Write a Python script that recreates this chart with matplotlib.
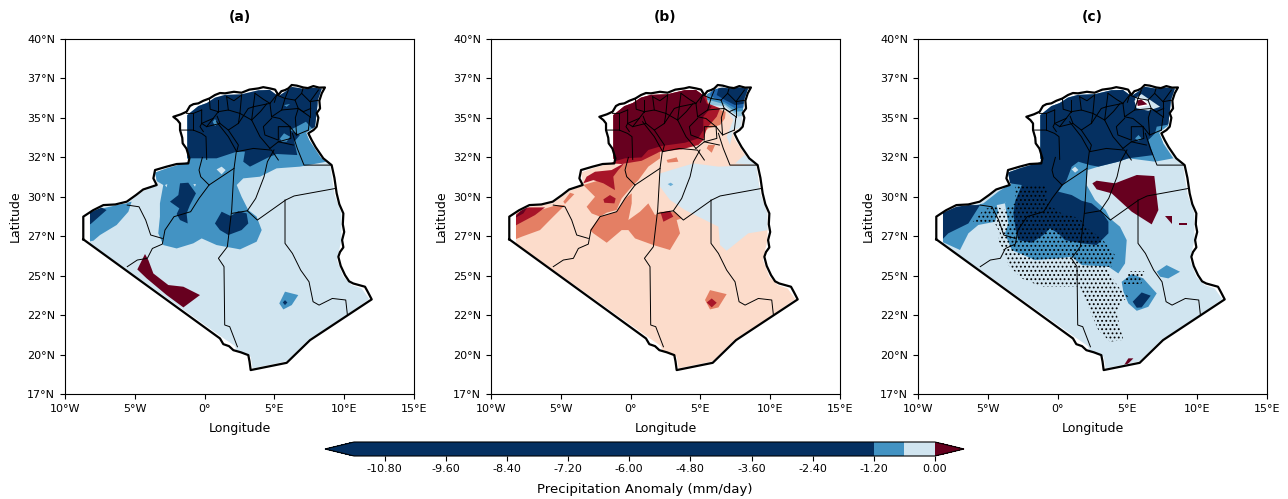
import numpy as np
import matplotlib
matplotlib.use("Agg")
import matplotlib.pyplot as plt
from matplotlib.colors import ListedColormap, BoundaryNorm
from matplotlib.cm import ScalarMappable

W, H = 1288, 499

dark = "#053061"
mid = "#4393c3"
light = "#d1e5f0"
pale_blue = "#d6e7f1"
sky = "#92c5de"
blue = "#2166ac"
maroon = "#67001f"
red = "#a81529"
salmon = "#e47f64"
peach = "#fcdccb"

lon_ticks = [-10, -5, 0, 5, 10, 15]
lon_labels = ["10°W", "5°W", "0°", "5°E", "10°E", "15°E"]
lat_ticks = np.linspace(40, 17, 10)
lat_labels = ["40°N", "37°N", "35°N", "32°N", "30°N", "27°N", "25°N", "22°N", "20°N", "17°N"]
cbar_levels = [-11.4, -1.2, -0.6, 0.0]
cbar_ticks = [-10.8, -9.6, -8.4, -7.2, -6.0, -4.8, -3.6, -2.4, -1.2, 0.0]

# country border, lon/lat
border = [(-8.69, 27.02), (1.10, 20.60), (1.34, 20.23), (1.75, 20.1), (2.06, 19.84), (2.6, 19.7), (3.13, 19.52), (3.22, 19.1),
          (3.3, 18.55), (5.88, 19.02), (7.55, 20.49), (11.97, 23.13), (11.7, 23.6), (11.49, 23.95), (10.65, 24.16),
          (10.35, 24.3), (10.06, 24.70), (9.75, 25.3), (9.58, 25.89), (9.7, 26.2), (9.94, 26.5), (9.85, 26.97), (10.0, 27.5),
          (9.9, 28.0), (9.94, 28.70), (9.65, 29.3), (9.46, 30.0), (9.3, 31.0), (9.1, 31.83), (8.5, 32.27), (7.95, 33.0),
          (7.67, 33.45), (7.43, 33.89), (7.8, 34.1), (8.03, 34.32), (8.15, 34.9), (8.03, 35.2), (8.27, 35.5), (8.22, 36.0),
          (8.39, 36.48), (8.62, 36.86), (8.2, 36.85), (7.79, 36.95), (7.4, 36.82), (7.07, 36.86), (6.6, 36.98), (6.24, 37.02),
          (6.0, 36.8), (5.76, 36.69), (5.5, 36.62), (5.28, 36.37), (5.05, 36.72), (4.68, 36.80), (4.2, 36.88), (3.85, 36.80),
          (3.2, 36.72), (2.65, 36.52), (2.1, 36.58), (1.46, 36.48), (1.1, 36.5), (0.74, 36.37), (0.35, 36.15), (-0.09, 36.0),
          (-0.45, 35.83), (-0.8, 35.78), (-1.05, 35.66), (-1.29, 35.29), (-1.7, 35.12), (-2.24, 34.96), (-1.95, 34.75),
          (-1.76, 34.53), (-1.76, 34.1), (-1.6, 33.6), (-1.57, 33.24), (-1.3, 32.9), (-1.09, 32.27), (-1.17, 31.94), (-2.0, 31.9),
          (-2.72, 31.73), (-3.55, 31.51), (-3.67, 30.97), (-3.43, 30.54), (-4.4, 30.25), (-4.9, 29.9), (-5.58, 29.46),
          (-6.4, 29.28), (-7.25, 29.24), (-8.0, 28.9), (-8.69, 28.49), (-8.69, 27.02)]

# the part of the map that has data, a little inside the border
data_area = [(-8.21, 28.75), (-8.21, 26.75), (1.25, 20.68), (2.18, 20.10), (2.30, 19.74), (3.30, 19.41),
             (3.44, 18.66), (5.16, 18.98), (5.88, 19.12), (7.43, 20.50), (10.18, 22.12), (11.80, 23.15),
             (11.25, 23.84), (10.54, 24.06), (9.94, 24.60), (9.48, 25.68), (9.80, 26.97), (9.80, 28.70),
             (9.32, 29.89), (8.98, 31.83), (8.32, 32.33), (7.50, 33.45), (7.28, 33.92), (7.91, 34.32),
             (8.05, 35.40), (8.12, 36.05), (8.40, 36.78), (7.79, 36.85), (7.07, 36.78), (6.24, 36.90),
             (5.76, 36.58), (5.28, 36.30), (4.68, 36.70), (3.85, 36.68), (2.65, 36.42), (1.46, 36.38),
             (0.74, 36.20), (0.15, 35.85), (-0.45, 35.65), (-1.24, 35.07),
             (-1.24, 32.27), (-1.09, 32.05), (-2.72, 31.62), (-3.55, 31.35), (-3.38, 30.54), (-4.39, 30.15),
             (-5.58, 29.35), (-7.25, 29.13)]

provinces = [
    [(-5.54, 25.25), (-4.82, 25.68), (-4.10, 25.79), (-3.74, 26.43), (-3.03, 26.71), (-2.84, 27.62), (-2.19, 28.49),
     (-1.0, 28.81), (-0.40, 29.67), (0.32, 30.54), (2.11, 31.62), (2.27, 32.70)],
    [(-3.03, 27.08), (-3.86, 27.30), (-4.22, 28.27), (-4.70, 29.13), (-5.54, 29.24)],
    [(2.11, 31.62), (1.94, 28.92), (1.63, 26.54), (0.99, 25.79), (1.39, 25.25), (1.44, 21.47), (1.80, 21.36), (2.35, 20.06)],
    [(-0.16, 32.33), (-0.40, 31.51), (-0.28, 31.08), (0.32, 30.54)],
    [(4.97, 32.81), (4.50, 32.05), (4.26, 31.08), (3.66, 29.67), (3.06, 28.87), (3.78, 28.27), (5.81, 29.57),
     (6.41, 29.83), (9.39, 30.32)],
    [(1.94, 28.70), (3.06, 28.87)],
    [(5.76, 29.57), (5.76, 26.76), (6.29, 26.11), (6.88, 25.03), (7.48, 24.27), (7.77, 22.98), (8.20, 22.76),
     (9.15, 23.19), (10.11, 23.09), (10.23, 22.12)],
    [(6.29, 33.89), (6.64, 32.91), (7.12, 31.83), (9.03, 31.83)],
    [(-1.76, 34.10), (-1.29, 34.10), (-0.81, 34.10), (-0.21, 33.88), (0.10, 33.67), (0.15, 32.20)],
    [(-0.81, 35.18), (-0.81, 34.10)],
    [(-0.21, 35.40), (-0.21, 34.53), (-0.33, 34.32), (-0.09, 34.0)],
    [(-0.21, 34.53), (0.62, 34.86), (0.98, 35.29), (1.70, 35.40), (2.53, 35.18), (2.42, 34.53)],
    [(0.15, 34.32), (1.10, 34.53), (1.70, 34.10), (2.42, 34.53)],
    [(1.70, 34.10), (2.42, 33.13), (2.30, 32.70), (3.49, 32.91), (4.80, 32.80), (5.28, 32.16)],
    [(0.86, 34.64), (1.70, 33.67), (2.30, 32.70)],
    [(2.42, 34.53), (3.13, 35.50), (3.49, 35.61), (3.37, 34.75), (3.97, 33.67), (4.68, 32.91)],
    [(0.98, 36.04), (0.98, 35.29)],
    [(1.70, 35.40), (1.58, 36.26)],
    [(2.53, 35.18), (2.65, 36.37)],
    [(3.49, 35.61), (3.61, 36.48)],
    [(3.49, 35.61), (4.68, 35.83), (5.16, 36.37)],
    [(4.68, 35.83), (4.80, 34.96), (5.52, 35.40), (6.71, 35.50), (7.07, 35.29)],
    [(4.80, 34.86), (4.21, 34.32), (4.32, 33.78), (5.28, 33.45), (5.28, 34.32), (6.12, 34.32), (6.18, 33.56), (5.28, 33.34)],
    [(6.12, 34.32), (6.59, 33.78), (7.43, 34.10)],
    [(7.43, 34.10), (7.55, 34.96), (6.71, 35.50)],
    [(6.71, 35.50), (6.48, 36.04), (5.76, 36.15), (5.52, 35.40)],
    [(6.48, 36.04), (6.95, 36.48), (7.55, 35.94), (8.22, 36.04)],
    [(7.55, 35.94), (7.55, 34.96)],
    [(5.76, 36.15), (6.0, 36.69)],
    [(6.95, 36.48), (7.07, 36.86)],
    [(7.55, 35.94), (8.15, 36.69)],
    [(5.16, 36.37), (5.76, 36.15)],
    [(-1.29, 35.18), (-0.81, 35.18), (-0.21, 35.40)],
    [(0.62, 34.86), (0.15, 34.32), (-0.21, 34.53)],
    [(4.68, 32.91), (5.28, 33.34), (6.36, 33.13)],
    [(4.45, 35.8), (4.0, 35.3), (3.37, 34.75)],
    [(5.16, 36.37), (5.0, 35.9)],
    [(4.8, 34.96), (5.4, 34.85), (6.12, 34.32)],
    [(6.71, 35.5), (6.5, 34.9), (6.59, 33.78)],
    [(1.1, 34.53), (0.9, 35.0)],
    [(2.53, 35.18), (3.37, 34.75)],
    [(0.98, 35.29), (0.4, 35.45), (0.35, 36.1)],
    [(1.58, 36.26), (2.1, 36.0), (2.65, 36.37)],
    [(3.61, 36.48), (4.2, 36.1), (4.68, 35.83)],
    [(7.07, 35.29), (7.6, 35.5)],
]

# panel (a) anomaly areas
a_regions = [
    (mid, [(-3.91, 32.16), (-3.55, 30.86), (-2.96, 30.54), (-3.20, 29.35), (-3.20, 28.49), (-3.32, 27.41), (-2.96, 26.65),
           (-2.00, 26.43), (-0.81, 26.76), (-0.21, 27.08), (0.86, 26.65), (2.54, 26.37), (3.73, 26.87), (4.09, 27.62),
           (3.73, 28.49), (3.13, 28.92), (2.65, 29.78), (2.30, 30.54), (2.77, 30.97), (3.97, 31.08), (5.16, 31.62),
           (6.83, 31.73), (8.74, 32.05), (9.46, 32.16), (9.46, 35.83), (-3.91, 35.83)]),
    (mid, [(-8.33, 28.81), (-5.23, 29.46), (-5.46, 28.81), (-6.30, 27.95), (-7.49, 27.30), (-7.97, 26.93), (-8.33, 26.87)]),
    (dark, [(-1.29, 32.27), (0.86, 32.27), (2.30, 32.70), (2.89, 32.70), (2.77, 32.05), (3.25, 31.73), (4.57, 32.33),
            (5.16, 32.55), (6.64, 32.48), (6.43, 33.35), (6.83, 33.78), (6.12, 34.10), (6.83, 34.43), (7.26, 34.64),
            (7.79, 34.10), (8.74, 34.53), (8.74, 37.34), (-1.52, 37.34)]),
    (dark, [(-8.33, 28.66), (-8.33, 27.95), (-8.16, 28.01), (-7.02, 28.92), (-7.49, 29.13)]),
    (dark, [(-2.48, 29.46), (-1.88, 29.89), (-1.76, 30.65), (-1.17, 30.69), (-0.62, 30.0), (-1.05, 29.24), (-1.29, 28.70),
            (-1.21, 28.05), (-1.76, 28.27), (-2.0, 28.66), (-1.81, 29.03)]),
    (dark, [(0.74, 28.05), (1.22, 28.81), (1.87, 28.53), (2.42, 28.85), (3.01, 28.70), (3.13, 28.05), (2.65, 27.62),
            (1.70, 27.30), (1.10, 27.62)]),
    (mid, [(5.40, 33.56), (5.69, 33.89), (6.12, 33.67), (5.88, 33.35), (5.52, 33.35)]),
    (mid, [(0.58, 34.64), (0.74, 34.81), (0.98, 34.53), (0.74, 34.36)]),
    (mid, [(5.69, 35.72), (6.12, 35.79), (5.88, 35.61)]),
    (light, [(0.86, 31.55), (1.22, 31.73), (1.51, 31.51), (1.22, 31.23)]),
    (light, [(-2.84, 30.54), (-2.67, 30.60), (-2.72, 30.39)]),
    (light, [(-0.81, 30.60), (-0.62, 30.60), (-0.69, 30.43)]),
    (maroon, [(-4.27, 26.07), (-4.82, 25.07), (-4.15, 24.49), (-2.72, 23.41), (-1.52, 22.61), (-0.33, 23.41), (-1.52, 23.95),
              (-2.60, 24.06), (-3.67, 24.81), (-4.03, 25.68)]),
    (mid, [(5.35, 22.87), (5.76, 23.63), (6.71, 23.41), (6.24, 22.76), (5.64, 22.48)]),
    (dark, [(5.60, 22.93), (5.76, 23.08), (5.93, 22.93), (5.76, 22.76)]),
]

# panel (b) anomaly areas
b_regions = [
    (pale_blue, [(2.11, 31.29), (3.30, 31.62), (4.50, 31.94), (6.29, 31.73), (8.91, 31.83), (9.39, 31.51), (10.11, 29.35),
                 (9.87, 27.62), (8.43, 27.41), (6.88, 26.28), (6.41, 26.65), (6.29, 27.84), (4.85, 28.49), (3.90, 28.92),
                 (2.82, 29.57), (2.11, 30.43)]),
    ("#6aaed6", [(2.66, 30.60), (2.87, 30.69), (3.06, 30.58), (2.87, 30.47)]),
    (pale_blue, [(5.45, 36.69), (8.67, 37.34), (8.91, 34.32), (7.36, 34.15), (7.12, 33.13), (6.88, 33.67), (7.36, 34.75),
                 (6.76, 35.51), (5.57, 35.66)]),
    (pale_blue, [(7.48, 31.94), (8.43, 32.70), (9.15, 31.83)]),
    (sky, [(5.33, 36.48), (8.91, 37.34), (8.67, 35.18), (7.72, 34.97), (7.24, 35.29), (6.76, 35.66), (5.57, 35.72)]),
    (mid, [(5.45, 36.59), (8.91, 37.34), (8.55, 35.36), (7.48, 35.29), (6.76, 35.77), (5.81, 36.0), (5.45, 36.05)]),
    (blue, [(5.81, 36.69), (8.91, 37.34), (8.46, 35.57), (7.48, 35.51), (6.76, 35.89), (6.05, 36.15), (5.69, 36.37)]),
    (dark, [(6.29, 36.80), (8.91, 37.34), (8.32, 35.83), (7.48, 35.72), (6.76, 36.05), (6.17, 36.37)]),
    (salmon, [(-3.39, 30.54), (-2.19, 30.86), (-0.40, 31.94), (2.11, 32.70), (2.11, 32.27), (1.27, 31.73), (0.56, 30.86),
              (0.08, 30.43), (-0.64, 29.67), (-1.0, 28.92), (-1.71, 28.75), (-2.19, 28.49), (-2.79, 28.70), (-3.15, 29.13),
              (-2.55, 29.78)]),
    (salmon, [(-2.91, 27.62), (-2.19, 28.49), (-1.0, 28.81), (-0.40, 29.67), (0.08, 30.0), (0.08, 29.35), (-0.16, 28.27),
              (0.67, 28.81), (1.27, 29.35), (1.75, 28.59), (2.11, 28.81), (3.18, 28.81), (3.66, 28.38), (3.30, 28.27),
              (3.54, 27.41), (2.82, 26.33), (1.63, 26.65), (0.32, 27.08), (-0.16, 27.62), (-0.64, 27.62), (-1.71, 26.80),
              (-2.67, 27.41)]),
    (salmon, [(-8.40, 26.97), (-8.40, 27.95), (-6.85, 28.81), (-5.30, 29.24), (-4.70, 29.24), (-5.54, 28.49), (-6.49, 27.62),
              (-7.80, 27.19)]),
    (salmon, [(-4.82, 29.46), (-4.34, 30.04), (-4.03, 29.95), (-4.70, 29.31)]),
    (salmon, [(5.57, 33.13), (6.05, 33.13), (5.81, 32.63), (5.45, 32.91)]),
    (salmon, [(2.58, 32.16), (3.30, 32.33), (3.42, 32.05), (2.66, 31.99)]),
    (salmon, [(5.33, 23.09), (5.69, 23.73), (6.88, 23.47), (6.29, 22.61), (5.69, 22.48)]),
    (salmon, [(4.85, 33.56), (5.57, 34.21), (6.41, 34.43), (6.76, 34.86), (6.81, 35.29), (5.81, 35.57), (5.52, 35.94),
              (5.33, 36.69), (4.85, 36.69)]),
    (red, [(-3.15, 31.08), (-2.55, 31.40), (-1.36, 31.51), (-0.40, 31.99), (-0.88, 31.51), (-1.24, 31.08), (-1.12, 30.21),
           (-1.95, 30.65), (-2.67, 30.86), (-3.39, 30.65)]),
    (red, [(-0.64, 31.90), (0.79, 32.11), (2.11, 32.70), (3.66, 32.85), (4.85, 33.13), (5.21, 33.45), (5.45, 34.21),
           (6.17, 34.97), (6.41, 35.51), (5.52, 35.83), (5.33, 36.69), (4.85, 37.13), (-1.36, 37.13), (-1.36, 31.94)]),
    (red, [(-8.40, 27.84), (-8.40, 28.49), (-7.56, 29.09), (-6.13, 29.09), (-6.85, 28.59)]),
    (red, [(5.45, 22.93), (5.81, 23.19), (6.17, 22.91), (5.81, 22.61)]),
    (red, [(2.15, 28.75), (2.82, 28.87), (3.06, 28.49), (2.35, 28.16)]),
    (red, [(-1.95, 29.61), (-1.48, 29.89), (-1.07, 29.67), (-1.16, 29.35), (-1.88, 29.39)]),
    (maroon, [(-1.24, 32.05), (-0.40, 32.27), (0.79, 32.33), (1.27, 32.81), (2.23, 33.07), (3.90, 33.28), (4.85, 33.56),
              (5.21, 34.10), (5.21, 34.97), (5.81, 35.61), (5.45, 35.83), (5.09, 36.59), (4.61, 37.13), (-1.36, 37.13)]),
    (maroon, [(-8.33, 28.38), (-7.92, 28.81), (-7.33, 29.18), (-7.68, 28.70)]),
]

# panel (c) anomaly areas
c_regions = [
    (mid, [(-3.29, 30.65), (-3.77, 29.35), (-3.53, 28.05), (-3.77, 27.41), (-3.29, 26.33), (-1.62, 25.68), (0.05, 25.79),
           (1.01, 25.89), (1.73, 25.35), (3.64, 25.25), (4.35, 24.81), (4.83, 25.46), (4.95, 26.97), (4.47, 27.84),
           (3.75, 28.38), (3.44, 28.92), (2.68, 29.57), (2.08, 30.54), (2.15, 31.51), (2.92, 31.73), (4.35, 32.05),
           (5.07, 32.27), (6.98, 32.05), (8.29, 32.27), (7.57, 33.24), (7.34, 33.99), (7.81, 34.32), (8.65, 34.75),
           (8.65, 37.34), (-1.38, 37.34), (-4.01, 31.72)]),
    (mid, [(-8.30, 26.87), (-6.99, 26.33), (-6.39, 27.41), (-5.68, 27.95), (-4.48, 28.16), (-4.25, 28.81), (-4.36, 29.24),
           (-3.77, 29.35), (-3.05, 30.54), (-3.29, 30.65), (-4.25, 30.11), (-5.32, 29.35), (-8.18, 28.70)]),
    (dark, [(-4.01, 31.72), (-3.41, 30.65), (-2.57, 30.54), (-3.05, 29.46), (-3.17, 28.70), (-3.0, 27.62), (-2.81, 26.97),
            (-1.86, 26.80), (-1.02, 27.30), (-0.54, 27.73), (0.05, 27.41), (0.53, 26.97), (1.73, 26.76), (2.80, 26.65),
            (3.64, 27.41), (3.64, 28.16), (3.16, 28.81), (2.44, 29.35), (1.73, 29.52), (1.01, 29.89), (0.05, 30.11),
            (0.65, 30.86), (1.01, 31.73), (1.49, 32.05), (2.32, 31.83), (2.92, 31.73), (4.35, 32.05), (5.07, 32.27),
            (6.86, 32.48), (6.50, 33.45), (6.98, 33.89), (7.10, 34.32), (7.81, 34.43), (8.65, 34.75), (8.65, 37.34),
            (-1.38, 37.34)]),
    (dark, [(-8.30, 28.70), (-8.30, 26.97), (-7.83, 27.41), (-6.39, 28.05), (-5.56, 29.24), (-7.11, 29.24)]),
    (mid, [(7.10, 24.92), (7.81, 25.35), (8.77, 24.92), (7.93, 24.49), (7.34, 24.60)]),
    (mid, [(4.59, 24.27), (5.31, 24.77), (6.14, 24.49), (7.10, 23.52), (6.50, 22.65), (5.67, 22.39), (5.07, 22.87), (4.71, 23.63)]),
    (dark, [(5.38, 22.98), (6.02, 23.58), (6.67, 23.37), (6.02, 22.61), (5.67, 22.59)]),
    (maroon, [(2.49, 30.65), (2.80, 30.82), (4.11, 30.65), (5.67, 31.19), (6.93, 31.12), (7.22, 28.92), (6.74, 27.99),
              (5.31, 28.81), (3.87, 30.0), (2.80, 30.26)]),
    (maroon, [(7.70, 28.55), (8.22, 28.55), (8.22, 27.99)]),
    (maroon, [(8.72, 28.05), (9.30, 28.05), (9.30, 27.97), (8.72, 27.97)]),
    (maroon, [(4.76, 18.87), (5.07, 19.31), (5.43, 19.31), (4.95, 18.87)]),
    (light, [(5.55, 36.15), (6.02, 36.43), (7.34, 35.61), (6.50, 35.35), (5.67, 35.51)]),
    ("white", [(5.50, 36.0), (5.98, 36.22), (6.62, 35.72), (5.67, 35.53)]),
    (maroon, [(5.67, 36.0), (5.98, 36.09), (6.43, 35.77), (5.74, 35.66)]),
    (mid, [(5.55, 33.56), (5.79, 33.78), (6.02, 33.56), (5.79, 33.39)]),
    (light, [(1.01, 31.55), (1.25, 31.73), (1.49, 31.51), (1.25, 31.34)]),
]

c_stipple = [
    [(-3.05, 30.54), (-0.78, 30.54), (-0.78, 29.35), (0.29, 28.70), (1.61, 28.38), (1.96, 27.84), (3.16, 27.08), (4.11, 26.0),
     (3.87, 25.25), (3.40, 25.25), (4.35, 23.95), (5.07, 23.30), (4.47, 22.87), (4.23, 22.22), (4.71, 20.49), (3.75, 20.39),
     (2.92, 21.14), (2.20, 22.65), (1.61, 23.95), (-1.14, 23.95), (-2.57, 24.49), (-3.53, 25.35), (-3.89, 26.33), (-4.25, 26.97),
     (-4.13, 27.41), (-4.48, 28.05), (-6.16, 28.05), (-5.32, 28.92), (-4.48, 29.24), (-3.89, 28.92), (-3.05, 29.35)],
    [(5.07, 24.92), (6.26, 24.92), (6.02, 24.17), (4.71, 24.17)],
]

panels = [
    ("(a)", 65, light, a_regions, []),
    ("(b)", 491, peach, b_regions, []),
    ("(c)", 918, light, c_regions, c_stipple),
]


def draw_polygon(ax, points, clip, **kw):
    xs, ys = zip(*points)
    patch = ax.fill(xs, ys, **kw)[0]
    patch.set_clip_path(clip)
    return patch


plt.rcParams["hatch.linewidth"] = 0.8
fig = plt.figure(figsize=(W / 100, H / 100), dpi=100)

for title, left, base, regions, stipple in panels:
    ax = fig.add_axes([left / W, 105 / H, 349 / W, 355 / H])
    xs, ys = zip(*data_area)
    clip = ax.fill(xs, ys, color=base, lw=0)[0]
    for color, pts in regions:
        draw_polygon(ax, pts, clip, color=color, lw=0)
    for pts in stipple:
        draw_polygon(ax, pts, clip, facecolor="none", edgecolor="black", hatch="....", lw=0)
    for line in provinces:
        xs, ys = zip(*line)
        ax.plot(xs, ys, color="black", lw=0.7)
    xs, ys = zip(*border)
    ax.plot(xs, ys, color="black", lw=1.6)
    ax.set_xlim(-10, 15)
    ax.set_ylim(17, 40)
    ax.set_xticks(lon_ticks)
    ax.set_xticklabels(lon_labels, fontsize=8)
    ax.set_yticks(lat_ticks)
    ax.set_yticklabels(lat_labels, fontsize=8)
    ax.set_xlabel("Longitude", fontsize=9, labelpad=6)
    ax.set_ylabel("Latitude", fontsize=9)
    ax.set_title(title, fontsize=10, fontweight="bold", pad=13)

cax = fig.add_axes([325 / W, (H - 456) / H, 639 / W, 14 / H])
cmap = ListedColormap([dark, mid, light])
cmap.set_under(dark)
cmap.set_over(maroon)
norm = BoundaryNorm(cbar_levels, cmap.N)
cb = fig.colorbar(ScalarMappable(norm=norm, cmap=cmap), cax=cax, orientation="horizontal", extend="both",
                  extendfrac=0.05, spacing="proportional", ticks=cbar_ticks, format="%.2f")
cb.minorticks_off()
cb.ax.tick_params(labelsize=8, pad=2)
cb.set_label("Precipitation Anomaly (mm/day)", fontsize=9.5, labelpad=7)

fig.savefig("out.png", dpi=100)
